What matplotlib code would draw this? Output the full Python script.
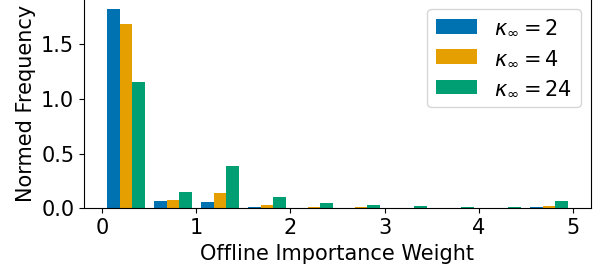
import numpy as np
import matplotlib.pyplot as plt

# histogram bins (offline importance weight) and normed heights
bin_edges = [0.0, 0.5, 1.0, 1.5, 2.0, 2.5, 3.0, 3.5, 4.0, 4.5, 5.0]
dens_k2 = [1.823, 0.067, 0.058, 0.012, 0.002, 0.002, 0.001, 0.001, 0.002, 0.012]
dens_k4 = [1.686, 0.076, 0.140, 0.030, 0.012, 0.012, 0.002, 0.003, 0.003, 0.021]
dens_k24 = [1.155, 0.149, 0.387, 0.103, 0.049, 0.030, 0.021, 0.012, 0.012, 0.067]
labels = [r'$\kappa_\infty = 2$', r'$\kappa_\infty = 4$', r'$\kappa_\infty = 24$']
colors = ['#0072B2', '#E69F00', '#009E73']

plt.rcParams['font.size'] = 15

centers = [(a + b) / 2 for a, b in zip(bin_edges[:-1], bin_edges[1:])]

fig = plt.figure(figsize=(6, 2.73), dpi=100)
ax = fig.add_axes([0.14, 0.237, 0.845, 0.767])
ax.hist([centers, centers, centers], bins=bin_edges,
        weights=[dens_k2, dens_k4, dens_k24],
        color=colors, label=labels)
ax.set_ylim(0, 1.914)
ax.set_xlabel('Offline Importance Weight')
ax.set_ylabel('Normed Frequency')
ax.legend(loc='upper right')

fig.savefig('out.png', dpi=100)
